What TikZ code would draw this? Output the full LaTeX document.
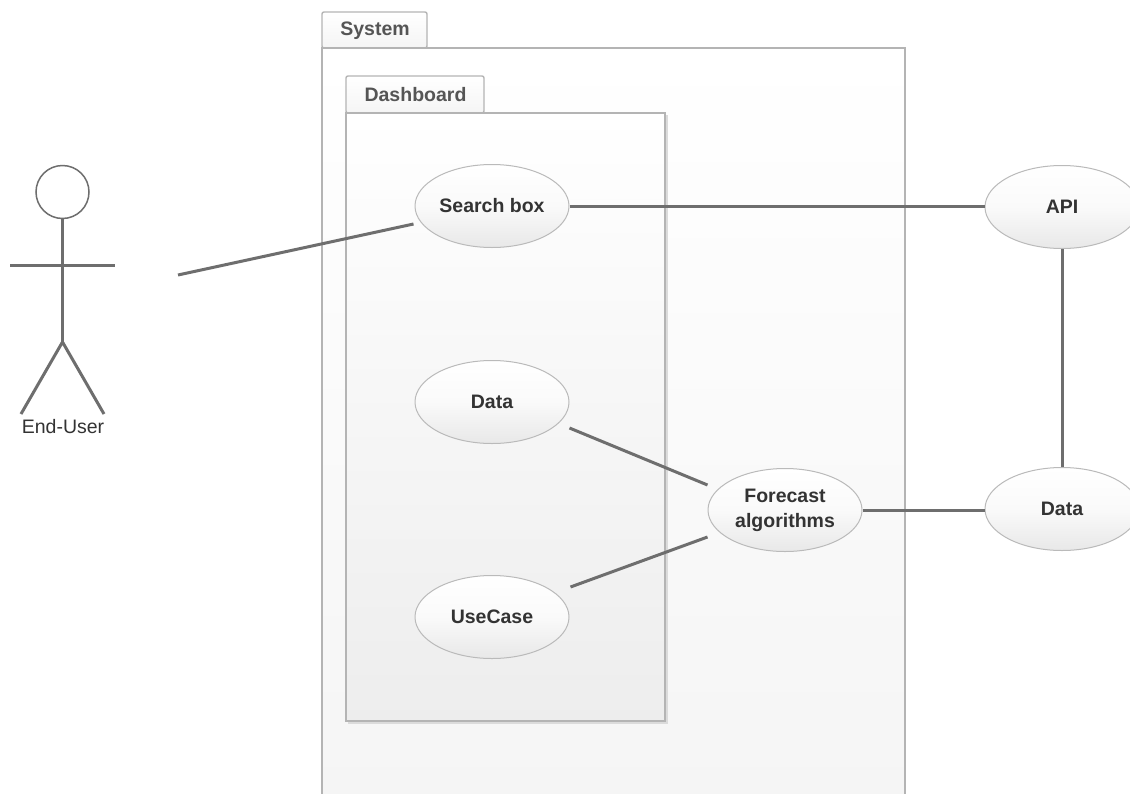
\documentclass[tikz,border=0pt]{standalone}
\usepackage{fontspec}
\setmainfont{Liberation Sans}
\usetikzlibrary{shapes.geometric,shadows}
\definecolor{framegray}{HTML}{B4B4B4}
\definecolor{linegray}{HTML}{6E6E6E}
\definecolor{inkdark}{HTML}{333333}
\definecolor{inktab}{HTML}{555555}
\tikzset{
  x=1pt,y=-1pt,
  frameline/.style={draw=framegray,line width=1.4pt},
  tabtext/.style={font=\fontsize{19.5}{22}\selectfont\bfseries,text=inktab,inner sep=0pt,anchor=center},
  usecase/.style={ellipse,draw=black!27,line width=1pt,top color=white,bottom color=black!9,middle color=black!2,
    minimum width=154pt,minimum height=83pt,inner sep=0pt,align=center,
    font=\fontsize{19.5}{25}\selectfont\bfseries,text=inkdark},
  link/.style={draw=linegray,line width=3pt},
  actorline/.style={draw=linegray,line width=3pt,line cap=butt},
}
\begin{document}
\begin{tikzpicture}
\useasboundingbox (0,0) rectangle (1130,793);
\clip (0,0) rectangle (1130,793);
\fill[white] (0,0) rectangle (1130,793);
% System package
\path[frameline,top color=white,bottom color=black!4,rounded corners=2pt] (322,48) -- (322,12) -- (427,12) -- (427,48) -- cycle;
\path[frameline,top color=white,bottom color=black!4] (322,48) rectangle (905,820);
\node[tabtext] (systemlabel) at (375,31) {System};
% Dashboard package
\path[frameline,top color=white,bottom color=black!4,rounded corners=2pt] (346,113) -- (346,76) -- (484,76) -- (484,113) -- cycle;
\fill[black!14] (348,115) rectangle (668,724);
\path[frameline,top color=white,bottom color=black!7] (346,113) rectangle (665,721);
\node[tabtext] (dashlabel) at (415.5,95) {Dashboard};
% Use cases
\node[usecase] (search) at (492,206) {Search box};
\node[usecase] (dataleft) at (492,402) {Data};
\node[usecase] (ucase) at (492,617) {UseCase};
\node[usecase] (forecast) at (785,510) {Forecast\\algorithms};
\node[usecase] (api) at (1062,207) {API};
\node[usecase] (dataright) at (1062,509) {Data};
% Actor
\node[circle,draw=linegray,line width=1.5pt,minimum size=53pt,inner sep=0pt] (head) at (62.5,192) {};
\coordinate (hip) at (62.5,342);
\coordinate (shoulderL) at (10,265);
\coordinate (shoulderR) at (115,265);
\coordinate (footL) at (21,414);
\coordinate (footR) at (104,414);
\draw[actorline] (head.south) -- (hip);
\draw[actorline] (shoulderL) -- (shoulderR);
\draw[actorline] (footL) -- (hip) -- (footR);
\node[font=\fontsize{19.5}{22}\selectfont,text=inkdark,inner sep=0pt] (user) at (63,427) {End-User};
% Connectors
\coordinate (userend) at (178,275);
\draw[link] (userend) -- ([xshift=-1pt,yshift=-18pt]search.west);
\draw[link] (search.east) -- (search.east -| api.west);
\draw[link] (api.south) -- (dataright.north);
\draw[link] ([yshift=-26pt]dataleft.east) -- ([yshift=25pt]forecast.west);
\draw[link] ([yshift=30pt,xshift=1pt]ucase.east) -- ([yshift=-27pt]forecast.west);
\draw[link] (forecast.east) -- (forecast.east -| dataright.west);
\end{tikzpicture}
\end{document}
